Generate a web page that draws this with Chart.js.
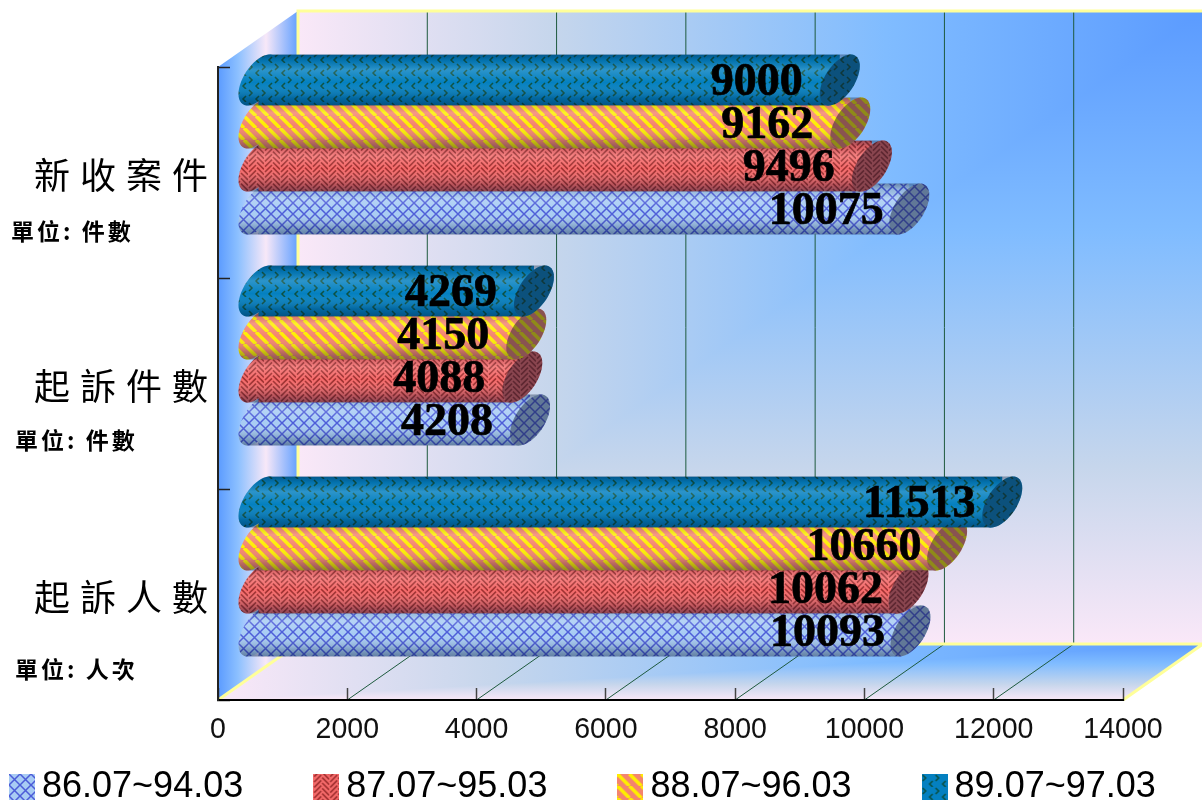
<!DOCTYPE html>
<html><head><meta charset="utf-8">
<style>html,body{margin:0;padding:0;background:#fff}canvas{display:block}</style>
<script src="https://cdn.jsdelivr.net/npm/chart.js@4"></script>
</head><body><canvas id="c" width="1202" height="803" style="width:1202px;height:803px"></canvas>
<script>
const categories = ['新收案件','起訴件數','起訴人數'];
const unitLabels = ['單位: 件數','單位: 件數','單位: 人次'];
const seriesNames = ['86.07~94.03','87.07~95.03','88.07~96.03','89.07~97.03'];
const s86 = [10075,4208,10093];
const s87 = [9496,4088,10062];
const s88 = [9162,4150,10660];
const s89 = [9000,4269,11513];
const xTicks = [0,2000,4000,6000,8000,10000,12000,14000];

const DX=80, DY=-56;           // full depth of the 3D box
const BX=40, BY=-28;           // bar centre-plane offset
const RX=20, RY=14, RV=21.3;   // section of the cylinder

function tile(w,h,bg,draw){
  const c=document.createElement('canvas');c.width=w;c.height=h;
  const g=c.getContext('2d');g.fillStyle=bg;g.fillRect(0,0,w,h);draw(g);return c;
}
const tiles=[
 tile(11,11,'#A8CCF4',g=>{g.strokeStyle='#4C5CD8';g.lineWidth=1.5;
   g.beginPath();g.moveTo(0,0);g.lineTo(11,11);g.moveTo(11,0);g.lineTo(0,11);g.stroke();}),
 tile(16,16,'#F46A6A',g=>{g.strokeStyle='#A03030';g.lineWidth=1.6;
   g.beginPath();
   for(let k=-2;k<5;k++){
     const y=k*16/3;
     g.moveTo(1,y+8);g.lineTo(8,y+1);
     g.moveTo(9,y+1+8/3);g.lineTo(16,y+8+8/3);
   }
   g.stroke();}),
 tile(12,12,'#F4846E',g=>{g.strokeStyle='#FFEE00';g.lineWidth=3.6;
   g.beginPath();for(let i=-12;i<=24;i+=12){g.moveTo(i,0);g.lineTo(i+12,12);}g.stroke();}),
 tile(13,13,'#0480C0',g=>{g.strokeStyle='#0B5040';g.lineWidth=1.5;
   g.beginPath();g.moveTo(1,1);g.lineTo(4,4);g.lineTo(1,7);g.moveTo(11,7);g.lineTo(8,10);g.lineTo(11,13);g.stroke();})
];
const ctx0=document.getElementById('c').getContext('2d');
const patterns=tiles.map(t=>ctx0.createPattern(t,'repeat'));
function swatch(i){
  const c=document.createElement('canvas');c.width=26;c.height=26;
  const g=c.getContext('2d');g.fillStyle=g.createPattern(tiles[i],'repeat');g.fillRect(0,0,26,26);return c;
}

function ellipsePath(ctx,cx,cy){
  for(let k=0;k<=48;k++){
    const t=k/48*2*Math.PI;
    const x=cx+RX*Math.cos(t), y=cy-RY*Math.cos(t)+RV*Math.sin(t);
    k?ctx.lineTo(x,y):ctx.moveTo(x,y);
  }
  ctx.closePath();
}
function shade(ctx,top,bot){
  const g=ctx.createLinearGradient(0,top,0,bot);
  g.addColorStop(0,'rgba(0,20,50,.38)');
  g.addColorStop(.12,'rgba(0,20,50,.12)');
  g.addColorStop(.30,'rgba(255,255,255,.16)');
  g.addColorStop(.55,'rgba(255,255,255,0)');
  g.addColorStop(.85,'rgba(0,20,50,.22)');
  g.addColorStop(1,'rgba(0,20,50,.42)');
  return g;
}
function condensed(ctx,factor,spacing,fn){
  const o=ctx.fillText;
  ctx.save();ctx.letterSpacing=spacing+'px';
  ctx.fillText=function(t,x,y){o.call(ctx,t,x,y,ctx.measureText(t).width*factor);};
  fn();
  delete ctx.fillText;
  ctx.restore();
}
// "from corner" fill: blue at the top-right corner, rectangular iso-lines
const wallStops=[[0,'#5B9BFF'],[.35,'#80BCFF'],[.72,'#C6D6EC'],[1,'#FAE8F8']];
function cornerFill(ctx,x0,y0,x1,y1){
  const hg=ctx.createLinearGradient(x1,0,x0,0), vg=ctx.createLinearGradient(0,y0,0,y1);
  wallStops.forEach(s=>{hg.addColorStop(s[0],s[1]);vg.addColorStop(s[0],s[1]);});
  ctx.fillStyle=hg;ctx.fillRect(x0,y0,x1-x0,y1-y0);
  ctx.fillStyle=vg;ctx.beginPath();ctx.moveTo(x1,y0);ctx.lineTo(x1,y1);ctx.lineTo(x0,y1);ctx.closePath();ctx.fill();
}

const box3d={
  id:'box3d',
  beforeLayout(chart){
    const lg=chart.legend;
    if(lg && !lg._wrapped){
      lg._wrapped=true;
      const of=lg.fit;
      lg.fit=function(){this.maxWidth=5000;this.maxHeight=5000;of.call(this);this.width=1193;this.height=38;};
      const od=lg.draw;
      lg.draw=function(){
        const L=this.left,R=this.right,T=this.top;
        this.left=L-70;this.right=5000;this.top=T-77;
        od.call(this);
        this.left=L;this.right=R;this.top=T;
      };
    }
  },
  afterLayout(chart){
    const ctx=chart.ctx, y=chart.scales.y, x=chart.scales.x;
    if(!y._wrapped){
      y._wrapped=true;
      const o=y.drawLabels;
      y.drawLabels=function(a){ctx.save();ctx.letterSpacing='10px';o.call(this,a);ctx.restore();};
      const ox=x.drawLabels;
      x.drawLabels=function(a){condensed(ctx,.95,0,()=>ox.call(this,a));};
    }
  },
  beforeDraw(chart){
    const ctx=chart.ctx,a=chart.chartArea;
    const L=a.left,R=a.right,T=a.top,B=a.bottom;
    ctx.save();
    // left wall
    let g=ctx.createLinearGradient(L,0,L+DX,0);
    g.addColorStop(0,'#5B9BFF');g.addColorStop(.25,'#8CC0FF');g.addColorStop(.6,'#F8E8F8');g.addColorStop(1,'#62A0FF');
    ctx.fillStyle=g;ctx.beginPath();ctx.moveTo(L,T);ctx.lineTo(L+DX,T+DY);ctx.lineTo(L+DX,B+DY);ctx.lineTo(L,B);ctx.closePath();ctx.fill();
    // back wall
    cornerFill(ctx,L+DX,T+DY,R+DX,B+DY);
    // floor
    ctx.save();ctx.beginPath();ctx.moveTo(L,B);ctx.lineTo(L+DX,B+DY);ctx.lineTo(R+DX,B+DY);ctx.lineTo(R,B);ctx.closePath();ctx.clip();
    cornerFill(ctx,L,B+DY,R+DX,B);
    ctx.restore();
    // grid
    ctx.strokeStyle='#1E5A3E';ctx.lineWidth=1;ctx.beginPath();
    xTicks.forEach(v=>{
      if(v===0)return;
      const px=chart.scales.x.getPixelForValue(v);
      ctx.moveTo(px,B);ctx.lineTo(px+DX,B+DY);ctx.lineTo(px+DX,T+DY);
    });
    ctx.stroke();
    // yellow edges
    ctx.strokeStyle='#FFFF99';ctx.lineWidth=3;ctx.beginPath();
    ctx.moveTo(R+DX,T+DY);ctx.lineTo(L+DX,T+DY);ctx.lineTo(L+DX,B+DY);ctx.lineTo(R+DX,B+DY);ctx.lineTo(R,B);
    ctx.moveTo(L+DX,B+DY);ctx.lineTo(L,B);ctx.stroke();
    ctx.restore();
  },
  beforeDatasetDraw(chart,args){
    const ctx=chart.ctx,meta=args.meta,pat=patterns[args.index];
    ctx.save();ctx.translate(BX,BY);
    meta.data.forEach(b=>{ctx.beginPath();ellipsePath(ctx,b.base,b.y);ctx.fillStyle=pat;ctx.fill();});
    ctx.beginPath();
    const d=RX*RY/Math.hypot(RY,RV);
    meta.data.forEach(b=>{
      const t=b.y-b.height/2,e=b.y+b.height/2;
      ctx.moveTo(b.base+d,t);ctx.lineTo(b.x+d,t);ctx.lineTo(b.x-d,e);ctx.lineTo(b.base-d,e);ctx.closePath();
    });
    ctx.clip();
  },
  afterDatasetDraw(chart,args){
    const ctx=chart.ctx,meta=args.meta,pat=patterns[args.index];
    ctx.restore();
    ctx.save();ctx.translate(BX,BY);
    const d=RX*RY/Math.hypot(RY,RV);
    meta.data.forEach(b=>{
      const t=b.y-b.height/2,e=b.y+b.height/2;
      ctx.fillStyle=shade(ctx,t,e);
      ctx.beginPath();ellipsePath(ctx,b.base,b.y);
      ctx.moveTo(b.base+d,t);ctx.lineTo(b.x+d,t);ctx.lineTo(b.x-d,e);ctx.lineTo(b.base-d,e);ctx.closePath();
      ctx.fill('nonzero');
      ctx.beginPath();ellipsePath(ctx,b.x,b.y);ctx.fillStyle=pat;ctx.fill();
      ctx.fillStyle='rgba(20,30,50,.48)';ctx.fill();
    });
    ctx.restore();
  },
  afterDatasetsDraw(chart){
    const ctx=chart.ctx;
    ctx.save();
    ctx.fillStyle='#000';ctx.strokeStyle='#000';ctx.lineWidth=.7;ctx.textAlign='center';ctx.textBaseline='middle';
    ctx.font='bold 46px "Liberation Serif"';
    chart.data.datasets.forEach((ds,i)=>{
      chart.getDatasetMeta(i).data.forEach((b,j)=>{
        ctx.fillText(String(ds.data[j]),b.x-43,b.y+BY+3);
        ctx.strokeText(String(ds.data[j]),b.x-43,b.y+BY+3);
      });
    });
    ctx.textAlign='left';ctx.font='bold 23px "Noto Sans CJK TC"';ctx.letterSpacing='3px';
    const xs=[11,15,15], ys=[231,440,669];
    unitLabels.forEach((u,i)=>ctx.fillText(u,xs[i],ys[i]));
    ctx.restore();
  }
};

new Chart(ctx0,{
  type:'bar',
  data:{labels:categories,datasets:[
    {label:seriesNames[0],data:s86,backgroundColor:patterns[0],order:4},
    {label:seriesNames[1],data:s87,backgroundColor:patterns[1],order:3},
    {label:seriesNames[2],data:s88,backgroundColor:patterns[2],order:2},
    {label:seriesNames[3],data:s89,backgroundColor:patterns[3],order:1}
  ]},
  options:{
    indexAxis:'y',responsive:false,animation:false,devicePixelRatio:1,
    categoryPercentage:172/211,barPercentage:51/43,
    layout:{padding:{left:9,right:79,top:67,bottom:0}},
    scales:{
      x:{min:0,max:14000,afterBuildTicks(s){s.ticks=xTicks.map(v=>({value:v}));},
         afterFit(s){s.height=65;},
         border:{display:true,color:'#000',width:2},
         grid:{drawOnChartArea:false,tickLength:-12,color:'#444',tickWidth:1.5},
         ticks:{padding:24,color:'#111',autoSkip:false,maxRotation:0,callback:v=>String(v),font:{family:'"Liberation Sans"',size:30}}},
      y:{afterFit(s){s.width=209;},
         border:{display:true,color:'#222',width:2},
         grid:{drawOnChartArea:false,offset:true,tickLength:-12,color:'#222',tickWidth:1.5},
         ticks:{padding:12,labelOffset:3,color:'#000',crossAlign:'near',font:{family:'"Noto Sans CJK TC"',size:36,weight:'normal'}}}
    },
    plugins:{
      tooltip:{enabled:false},
      legend:{display:true,position:'bottom',align:'start',
        labels:{usePointStyle:true,pointStyleWidth:4,padding:81,color:'#111',
          font:{family:'"Liberation Sans"',size:36},
          generateLabels(chart){return chart.data.datasets.map((d,i)=>({text:d.label,fillStyle:patterns[i],pointStyle:swatch(i),lineWidth:0,strokeStyle:'transparent',datasetIndex:i,hidden:false}));}
        }}
    }
  },
  plugins:[box3d]
});
</script></body></html>
